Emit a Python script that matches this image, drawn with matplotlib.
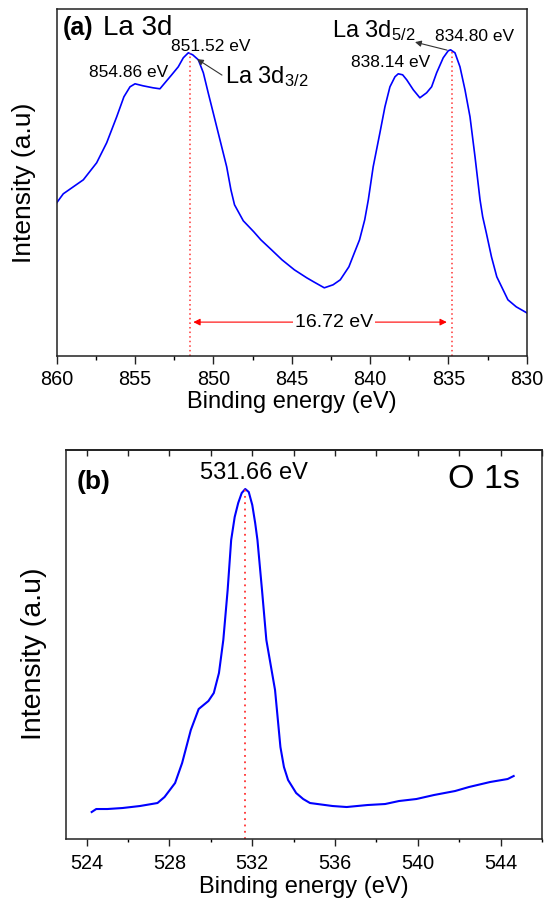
import numpy as np
import matplotlib
matplotlib.use("Agg")
import matplotlib.pyplot as plt
from matplotlib.ticker import MultipleLocator

plt.rcParams["font.family"] = ["Liberation Sans", "DejaVu Sans"]
plt.rcParams["mathtext.fontset"] = "custom"
plt.rcParams["mathtext.rm"] = "Liberation Sans"
plt.rcParams["mathtext.it"] = "Liberation Sans:italic"
plt.rcParams["mathtext.bf"] = "Liberation Sans:bold"

# (a) La 3d spectrum, binding energy (eV) vs intensity (a.u.)
la_energy = [860.0, 859.58, 858.30, 857.45, 856.81, 856.17, 855.71, 855.32,
             855.0, 854.49, 853.85, 853.41, 853.09, 852.66, 852.24, 851.92,
             851.60, 851.32, 850.96, 850.64, 850.33, 850.01, 849.58, 849.15,
             848.88, 848.65, 848.09, 847.42, 846.97, 846.29, 845.62, 844.83,
             844.04, 843.6, 842.92, 842.36, 841.9, 841.35, 841.0, 840.67,
             840.34, 840.11, 839.80, 839.37, 839.05, 838.73, 838.41, 838.20,
             837.92, 837.66, 837.24, 836.82, 836.39, 836.07, 835.75, 835.33,
             835.01, 834.86, 834.58, 834.26, 833.94, 833.62, 833.30, 832.98,
             832.81, 832.58, 832.25, 831.91, 831.2, 830.67, 830.0]
la_intensity = [153, 162, 176, 193, 213, 239, 259, 269, 272, 270, 268, 267,
                273, 281, 289, 298, 303, 301, 296, 283, 263, 243, 216, 189,
                166, 151, 135, 124, 116, 106, 96, 86, 78, 74, 68, 71, 76, 89,
                103, 116, 136, 156, 189, 223, 249, 269, 279, 282, 281, 276,
                266, 258, 263, 269, 283, 298, 305, 306, 303, 289, 266, 239,
                199, 156, 139, 123, 99, 79, 56, 49, 43]
la_peaks = [851.52, 834.80]
la_split = 16.72

# (b) O 1s spectrum
o_energy = [524.24, 524.46, 525.0, 525.73, 526.57, 527.42, 527.76, 528.27,
            528.61, 529.03, 529.41, 529.88, 530.14, 530.39, 530.6, 530.81,
            530.98, 531.15, 531.32, 531.49, 531.66, 531.83, 532.0, 532.14,
            532.25, 532.47, 532.68, 533.1, 533.36, 533.53, 533.73, 534.12,
            534.46, 534.79, 535.88, 536.56, 537.57, 538.42, 539.09, 539.93,
            540.78, 541.8, 542.47, 543.49, 544.34, 544.63]
o_intensity = [27, 30, 30, 31, 33, 36, 42, 56, 76, 109, 130, 138, 146, 166,
               199, 249, 299, 322, 336, 346, 350, 347, 334, 316, 299, 249,
               199, 149, 92, 72, 59, 46, 40, 36, 33, 32, 34, 35, 38, 40, 44,
               48, 52, 57, 60, 63]
o_peak = 531.66

fig = plt.figure(figsize=(5.52, 9.10), dpi=100)
ax1 = fig.add_axes([0.1027, 0.609, 0.8515, 0.381])
ax2 = fig.add_axes([0.1196, 0.078, 0.8623, 0.4275])

for ax in (ax1, ax2):
    for sp in ax.spines.values():
        sp.set_linewidth(1.1)
        sp.set_color("#222222")
    ax.set_yticks([])
    ax.tick_params(axis="x", labelsize=14.3, width=1.0, colors="#222222",
                   labelcolor="black")

# ---- panel (a)
ax1.plot(la_energy, la_intensity, color="#0000ff", lw=1.2)
ax1.set_xlim(860, 830)
ax1.set_ylim(0, 346.7)
ax1.xaxis.set_major_locator(MultipleLocator(5))
ax1.xaxis.set_minor_locator(MultipleLocator(2.5))
ax1.tick_params(axis="x", which="major", direction="out", length=5.8, pad=4.5)
ax1.tick_params(axis="x", which="minor", direction="out", length=3, width=1.0)
ax1.set_xlabel("Binding energy (eV)", fontsize=17, labelpad=1)
ax1.set_ylabel("Intensity (a.u)", fontsize=19)
ax1.yaxis.set_label_coords(-0.045, 0.5)

rev_e = la_energy[::-1]
rev_i = la_intensity[::-1]
for pk in la_peaks:
    ax1.vlines(pk, 0, np.interp(pk, rev_e, rev_i), colors="#ff3333",
               linestyles=(0, (1, 2)), lw=1.1)

ax1.text(0.013, 0.925, "(a)", transform=ax1.transAxes, fontsize=18,
         fontweight="bold", va="baseline")
ax1.text(0.098, 0.925, "La 3d", transform=ax1.transAxes, fontsize=20,
         va="baseline")

ax1.text(850.15, 309.7, "851.52 eV", fontsize=12.5, ha="center", va="center")
ax1.text(855.44, 283.7, "854.86 eV", fontsize=12.5, ha="center", va="center")
ax1.text(838.67, 293.7, "838.14 eV", fontsize=12.5, ha="center", va="center")
ax1.text(833.34, 319.7, "834.80 eV", fontsize=12.5, ha="center", va="center")

ax1.text(849.26, 272.7, r"La 3d$\mathregular{_{3/2}}$", fontsize=17,
         va="baseline")
ax1.annotate("", xy=(851.04, 296.7), xytext=(849.45, 280.7),
             arrowprops=dict(arrowstyle="-|>", color="#333333", lw=0.8,
                             mutation_scale=9, shrinkA=0, shrinkB=0))
ax1.text(842.43, 318.7, r"La 3d$\mathregular{_{5/2}}$", fontsize=17,
         va="baseline")
ax1.annotate("", xy=(837.13, 313.7), xytext=(835.09, 305.7),
             arrowprops=dict(arrowstyle="-|>", color="#333333", lw=0.8,
                             mutation_scale=9, shrinkA=0, shrinkB=0))

# splitting arrow between the two peaks
y_arrow = 33.7
mid = (la_peaks[0] + la_peaks[1]) / 2
for end in la_peaks:
    tip = end - 0.24 if end > mid else end + 0.3
    ax1.annotate("", xy=(tip, y_arrow), xytext=(mid, y_arrow),
                 arrowprops=dict(arrowstyle="-|>", color="red", lw=0.8,
                                 mutation_scale=10, shrinkA=0, shrinkB=0))
ax1.text(mid - 0.85, y_arrow, f"{la_split:.2f} eV", fontsize=14,
         ha="center", va="center",
         bbox=dict(facecolor="white", edgecolor="none", pad=1.5))

# ---- panel (b)
ax2.plot(o_energy, o_intensity, color="#0000ff", lw=1.5)
ax2.set_xlim(523, 546)
ax2.set_ylim(0, 389)
ax2.xaxis.set_major_locator(MultipleLocator(4))
ax2.xaxis.set_minor_locator(MultipleLocator(2))
ax2.tick_params(axis="x", which="major", direction="out", length=5, pad=6)
ax2.tick_params(axis="x", which="minor", direction="out", length=2.5,
                width=1.0)
top = ax2.secondary_xaxis("top")
top.xaxis.set_major_locator(MultipleLocator(2))
top.tick_params(direction="in", length=4, width=1.0, labeltop=False,
                colors="#222222")
top.spines["top"].set_linewidth(1.1)
ax2.set_xlabel("Binding energy (eV)", fontsize=17, labelpad=2)
ax2.set_ylabel("Intensity (a.u)", fontsize=20.5)
ax2.yaxis.set_label_coords(-0.04, 0.476)

ax2.vlines(o_peak, 0, np.interp(o_peak, o_energy, o_intensity),
           colors="#ff3333", linestyles=(0, (1, 2.5)), lw=1.3)
ax2.text(532.07, 366, f"{o_peak:.2f} eV", fontsize=17, ha="center",
         va="center")
ax2.text(0.023, 0.9, "(b)", transform=ax2.transAxes, fontsize=19,
         fontweight="bold", va="baseline")
ax2.text(544.95, 359, "O 1s", fontsize=24.5, ha="right", va="center")

fig.savefig("out.png", dpi=100)
